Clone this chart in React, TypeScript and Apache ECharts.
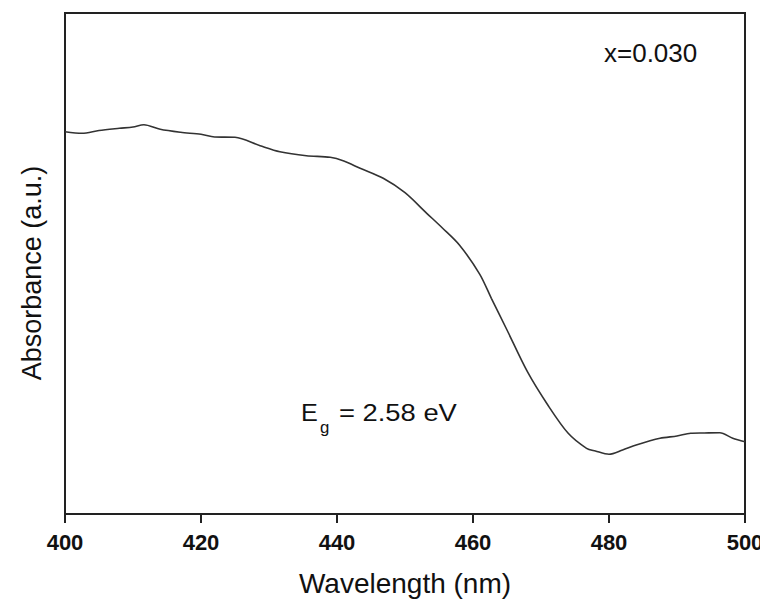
import React, { useEffect, useRef } from "react";
import * as echarts from "echarts";

const wavelengths = [400, 402.5, 405, 408, 410, 411.6, 414, 417, 420, 422, 425, 428.7, 431.6, 435.5, 439, 441, 443.4, 446.8, 450, 453.2, 455.5, 458, 461, 462.7, 465, 468, 471, 474, 476.7, 478, 480, 482, 484, 487.5, 490, 492, 494, 496.3, 498.2, 500];
const absorbance = [382.3, 380.7, 383.5, 385.7, 387, 389.3, 384.7, 381.7, 379.7, 377, 376.7, 368.3, 362.3, 358.3, 356.7, 353, 345.7, 335.7, 321.3, 300.7, 286, 269, 239.7, 215.7, 184, 142.3, 109, 80.7, 65.7, 63, 59.7, 64, 69, 75.7, 78, 80.7, 81, 81.3, 75.7, 72.3];
const xTicks = [400, 420, 440, 460, 480, 500];

const FONT = "'Liberation Sans', Arial, sans-serif";

export default function App() {
  const ref = useRef<HTMLDivElement>(null);
  useEffect(() => {
    if (!ref.current) return;
    const chart = echarts.init(ref.current, undefined, { renderer: "svg" });
    const data = wavelengths.map((w, i) => [w, absorbance[i]]);
    const txt = (x: number, y: number, text: string, size: number, sx: number) => ({
      type: "text",
      x,
      y,
      scaleX: sx,
      style: { text, x: 0, y: 0, fontSize: size, fontFamily: FONT, fill: "#111", verticalAlign: "top", align: "left" },
    });
    chart.setOption({
      animation: false,
      backgroundColor: "#fff",
      grid: {
        left: 65,
        right: 23,
        top: 13,
        bottom: 94,
        show: true,
        borderColor: "#222",
        borderWidth: 2,
        backgroundColor: "transparent",
      },
      xAxis: {
        type: "value",
        min: xTicks[0],
        max: xTicks[xTicks.length - 1],
        interval: 20,
        name: "Wavelength (nm)",
        nameLocation: "middle",
        nameGap: 55,
        nameTextStyle: { fontSize: 28, fontFamily: FONT, color: "#111" },
        axisLine: { show: true, lineStyle: { color: "#222", width: 2 } },
        axisTick: { show: true, inside: false, length: 9, lineStyle: { color: "#222", width: 2 } },
        axisLabel: { fontSize: 22, fontWeight: "bold", fontFamily: FONT, color: "#111", margin: 17 },
        splitLine: { show: false },
      },
      yAxis: {
        type: "value",
        min: 0,
        max: 501,
        name: "Absorbance (a.u.)",
        nameLocation: "middle",
        nameGap: 20,
        nameTextStyle: { fontSize: 27, fontFamily: FONT, color: "#111", padding: [0, 19, 0, 0] },
        axisLine: { show: true, lineStyle: { color: "#222", width: 2 } },
        axisTick: { show: false },
        axisLabel: { show: false },
        splitLine: { show: false },
      },
      graphic: [
        txt(604, 41, "x=0.030", 25, 1.04),
        txt(301, 401, "E", 24, 1.05),
        txt(320, 419, "g", 16, 1.05),
        txt(339, 401, "= 2.58 eV", 24, 1.14),
      ],
      series: [
        {
          type: "line",
          data,
          smooth: 0.3,
          showSymbol: false,
          lineStyle: { color: "#333", width: 1.6 },
        },
      ],
    });
    return () => chart.dispose();
  }, []);
  return <div ref={ref} style={{ width: 768, height: 608, margin: -8 }} />;
}
